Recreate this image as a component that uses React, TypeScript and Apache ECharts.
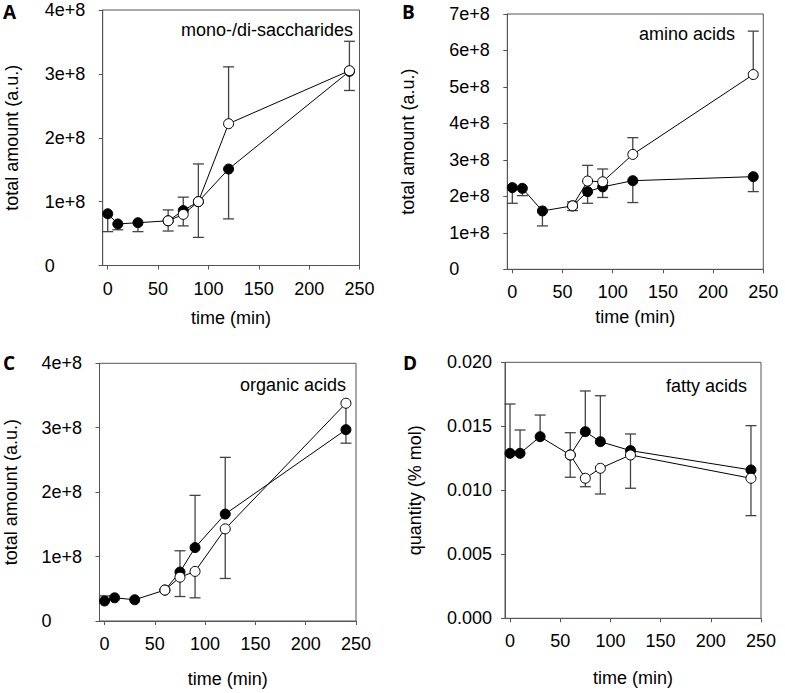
import React, { useEffect, useRef } from "react";
import * as echarts from "echarts";

// ---------- data ----------
const times = [0, 10, 30, 60, 75, 90, 120, 240];
const openTimes = [60, 75, 90, 120, 240];
const xTicks = [0, 50, 100, 150, 200, 250];

// A: mono-/di-saccharides (a.u.)
const sugarFilled = [0.81e8, 0.65e8, 0.67e8, 0.7e8, 0.86e8, 1.0e8, 1.51e8, 3.04e8];
const sugarFilledErrEnd = [0.53e8, 0.56e8, 0.53e8, 0.54e8, 0.62e8, 0.44e8, 0.73e8, 2.74e8];
const sugarOpen = [0.7e8, 0.8e8, 1.0e8, 2.22e8, 3.05e8];
const sugarOpenErrEnd = [0.87e8, 1.07e8, 1.59e8, 3.11e8, 3.51e8];

// B: amino acids (a.u.)
const aminoFilled = [2.24e8, 2.22e8, 1.6e8, 1.74e8, 2.13e8, 2.26e8, 2.43e8, 2.54e8];
const aminoFilledErrEnd = [1.81e8, 2.02e8, 1.19e8, 1.61e8, 1.81e8, 1.97e8, 1.83e8, 2.13e8];
const aminoOpen = [1.74e8, 2.42e8, 2.4e8, 3.15e8, 5.34e8];
const aminoOpenErrEnd = [1.85e8, 2.85e8, 2.75e8, 3.61e8, 6.53e8];

// C: organic acids (a.u.)
const organicFilled = [0.31e8, 0.36e8, 0.33e8, 0.48e8, 0.76e8, 1.14e8, 1.66e8, 2.97e8];
const organicFilledErrEnd = [0.39e8, null, null, null, 1.09e8, 1.95e8, 2.54e8, null];
const organicOpen = [0.48e8, 0.68e8, 0.77e8, 1.43e8, 3.38e8];
const organicOpenErrEnd = [null, 0.38e8, 0.36e8, 0.66e8, 2.76e8];

// D: fatty acids (% mol)
const fattyFilled = [0.01289, 0.01289, 0.01419, 0.01276, 0.01458, 0.0138, 0.0131, 0.01159];
const fattyFilledErrEnd = [0.01674, 0.01471, 0.01588, 0.0145, 0.01776, 0.01739, 0.0144, 0.01505];
const fattyOpen = [0.01276, 0.01094, 0.01172, 0.01276, 0.01094];
const fattyOpenErrEnd = [0.01102, 0.01028, 0.00971, 0.01016, 0.00802];

const panelLetters = ["A", "B", "C", "D"];
const panelNames = ["mono-/di-saccharides", "amino acids", "organic acids", "fatty acids"];
const yTitles = ["total amount (a.u.)", "total amount (a.u.)", "total amount (a.u.)", "quantity (% mol)"];
const xTitle = "time (min)";
const yMaxes = [4e8, 7e8, 4e8, 0.02];
const yIntervals = [1e8, 1e8, 1e8, 0.005];

// ---------- layout ----------
const FONT = "Liberation Sans, Arial, sans-serif";
const LETTER_FONT = "Open Sans, Liberation Sans, sans-serif";
const AXIS_COLOR = "#555";
const ERR_COLOR = "#444";

const layouts = [
  { left: 102.7, top: 10, width: 256.8, height: 255.5, letterX: 3, letterY: 2, yTitleX: 12, xTitleY: 317.5, nameX: 353, nameY: 30 },
  { left: 507.3, top: 14, width: 256, height: 255.3, letterX: 402, letterY: 2, yTitleX: 408, xTitleY: 316.5, nameX: 735, nameY: 34 },
  { left: 99.5, top: 363.3, width: 256.5, height: 257.7, letterX: 3, letterY: 353, yTitleX: 11, xTitleY: 679, nameX: 346, nameY: 385 },
  { left: 505, top: 362.3, width: 256, height: 256, letterX: 403, letterY: 353, yTitleX: 415, xTitleY: 678, nameX: 747, nameY: 386 },
];

const filledSets = [
  [sugarFilled, sugarFilledErrEnd],
  [aminoFilled, aminoFilledErrEnd],
  [organicFilled, organicFilledErrEnd],
  [fattyFilled, fattyFilledErrEnd],
];
const openSets = [
  [sugarOpen, sugarOpenErrEnd],
  [aminoOpen, aminoOpenErrEnd],
  [organicOpen, organicOpenErrEnd],
  [fattyOpen, fattyOpenErrEnd],
];

function errData(ts: number[], vals: number[], ends: (number | null)[]) {
  const out: number[][] = [];
  ts.forEach((t, i) => {
    const e = ends[i];
    if (e !== null && e !== undefined) out.push([t, vals[i], e]);
  });
  return out;
}

function errRender(params: any, api: any) {
  const t = api.value(0);
  const v = api.value(1);
  const e = api.value(2);
  const p0 = api.coord([t, v]);
  const p1 = api.coord([t, e]);
  const style = { stroke: ERR_COLOR, lineWidth: 1.3, fill: "none" };
  return {
    type: "group",
    children: [
      { type: "line", shape: { x1: p0[0], y1: p0[1], x2: p1[0], y2: p1[1] }, style },
      { type: "line", shape: { x1: p1[0] - 5.5, y1: p1[1], x2: p1[0] + 5.5, y2: p1[1] }, style },
    ],
  };
}

function buildOption() {
  const grid = layouts.map((l) => ({
    left: l.left,
    top: l.top,
    width: l.width,
    height: l.height,
    show: true,
    borderColor: AXIS_COLOR,
    borderWidth: 1,
    backgroundColor: "transparent",
  }));

  const xAxis = layouts.map((_, i) => ({
    type: "value",
    gridIndex: i,
    min: -5,
    max: 250,
    axisLine: { show: true, onZero: false, lineStyle: { color: AXIS_COLOR, width: 1 } },
    axisTick: { show: true, length: 4, customValues: xTicks, lineStyle: { color: AXIS_COLOR } },
    axisLabel: {
      customValues: xTicks,
      margin: 14,
      fontSize: 18,
      color: "#000",
      fontFamily: FONT,
    },
    splitLine: { show: false },
  }));

  const yAxis = layouts.map((_, i) => ({
    type: "value",
    gridIndex: i,
    min: 0,
    max: yMaxes[i],
    interval: yIntervals[i],
    axisLine: { show: true, onZero: false, lineStyle: { color: AXIS_COLOR, width: 1 } },
    axisTick: { show: true, length: 4, lineStyle: { color: AXIS_COLOR } },
    axisLabel: {
      align: "left",
      margin: 58,
      fontSize: 18,
      color: "#000",
      fontFamily: FONT,
      formatter: (v: number) => {
        if (i === 3) return v.toFixed(3);
        return v === 0 ? "0" : `${Math.round(v / 1e8)}e+8`;
      },
    },
    splitLine: { show: false },
  }));

  const series: any[] = [];
  layouts.forEach((_, i) => {
    const [fv, fe] = filledSets[i] as [number[], (number | null)[]];
    const [ov, oe] = openSets[i] as [number[], (number | null)[]];
    series.push({
      type: "custom",
      xAxisIndex: i,
      yAxisIndex: i,
      z: 1,
      renderItem: errRender,
      encode: { x: 0, y: [1, 2] },
      data: errData(times, fv, fe),
      silent: true,
    });
    series.push({
      type: "custom",
      xAxisIndex: i,
      yAxisIndex: i,
      z: 1,
      renderItem: errRender,
      encode: { x: 0, y: [1, 2] },
      data: errData(openTimes, ov, oe),
      silent: true,
    });
    series.push({
      type: "line",
      xAxisIndex: i,
      yAxisIndex: i,
      z: 2,
      symbol: "circle",
      symbolSize: 10,
      showAllSymbol: true,
      lineStyle: { color: "#000", width: 1 },
      itemStyle: { color: "#000", borderColor: "#000", borderWidth: 1 },
      data: times.map((t, k) => [t, fv[k]]),
      silent: true,
    });
    series.push({
      type: "line",
      xAxisIndex: i,
      yAxisIndex: i,
      z: 3,
      symbol: "circle",
      symbolSize: 10,
      showAllSymbol: true,
      lineStyle: { color: "#000", width: 1 },
      itemStyle: { color: "#fff", borderColor: "#000", borderWidth: 1 },
      data: openTimes.map((t, k) => [t, ov[k]]),
      silent: true,
    });
  });

  const graphic: any[] = [];
  layouts.forEach((l, i) => {
    graphic.push({
      type: "text",
      x: l.letterX,
      y: l.letterY,
      style: {
        text: panelLetters[i],
        fontSize: 19,
        fontWeight: "bold",
        fontFamily: LETTER_FONT,
        fill: "#000",
        textAlign: "left",
        textVerticalAlign: "top",
      },
    });
    graphic.push({
      type: "text",
      x: l.nameX,
      y: l.nameY,
      style: {
        text: panelNames[i],
        fontSize: 18,
        fontFamily: FONT,
        fill: "#000",
        textAlign: "right",
        textVerticalAlign: "middle",
      },
    });
    graphic.push({
      type: "text",
      x: l.yTitleX,
      y: l.top + l.height / 2,
      rotation: Math.PI / 2,
      style: {
        text: yTitles[i],
        fontSize: 18,
        fontFamily: FONT,
        fill: "#000",
        textAlign: "center",
        textVerticalAlign: "middle",
      },
    });
    graphic.push({
      type: "text",
      x: l.left + l.width / 2,
      y: l.xTitleY,
      style: {
        text: xTitle,
        fontSize: 18,
        fontFamily: FONT,
        fill: "#000",
        textAlign: "center",
        textVerticalAlign: "middle",
      },
    });
  });

  return {
    animation: false,
    backgroundColor: "#fff",
    textStyle: { fontFamily: FONT },
    grid,
    xAxis,
    yAxis,
    series,
    graphic,
  };
}

export default function App() {
  const ref = useRef<HTMLDivElement>(null);
  useEffect(() => {
    if (!ref.current) return;
    const chart = echarts.init(ref.current, undefined, { renderer: "svg" });
    chart.setOption(buildOption() as any);
    return () => chart.dispose();
  }, []);
  return (
    <div
      ref={ref}
      style={{ position: "fixed", left: 0, top: 0, width: 785, height: 693, background: "#fff" }}
    />
  );
}
